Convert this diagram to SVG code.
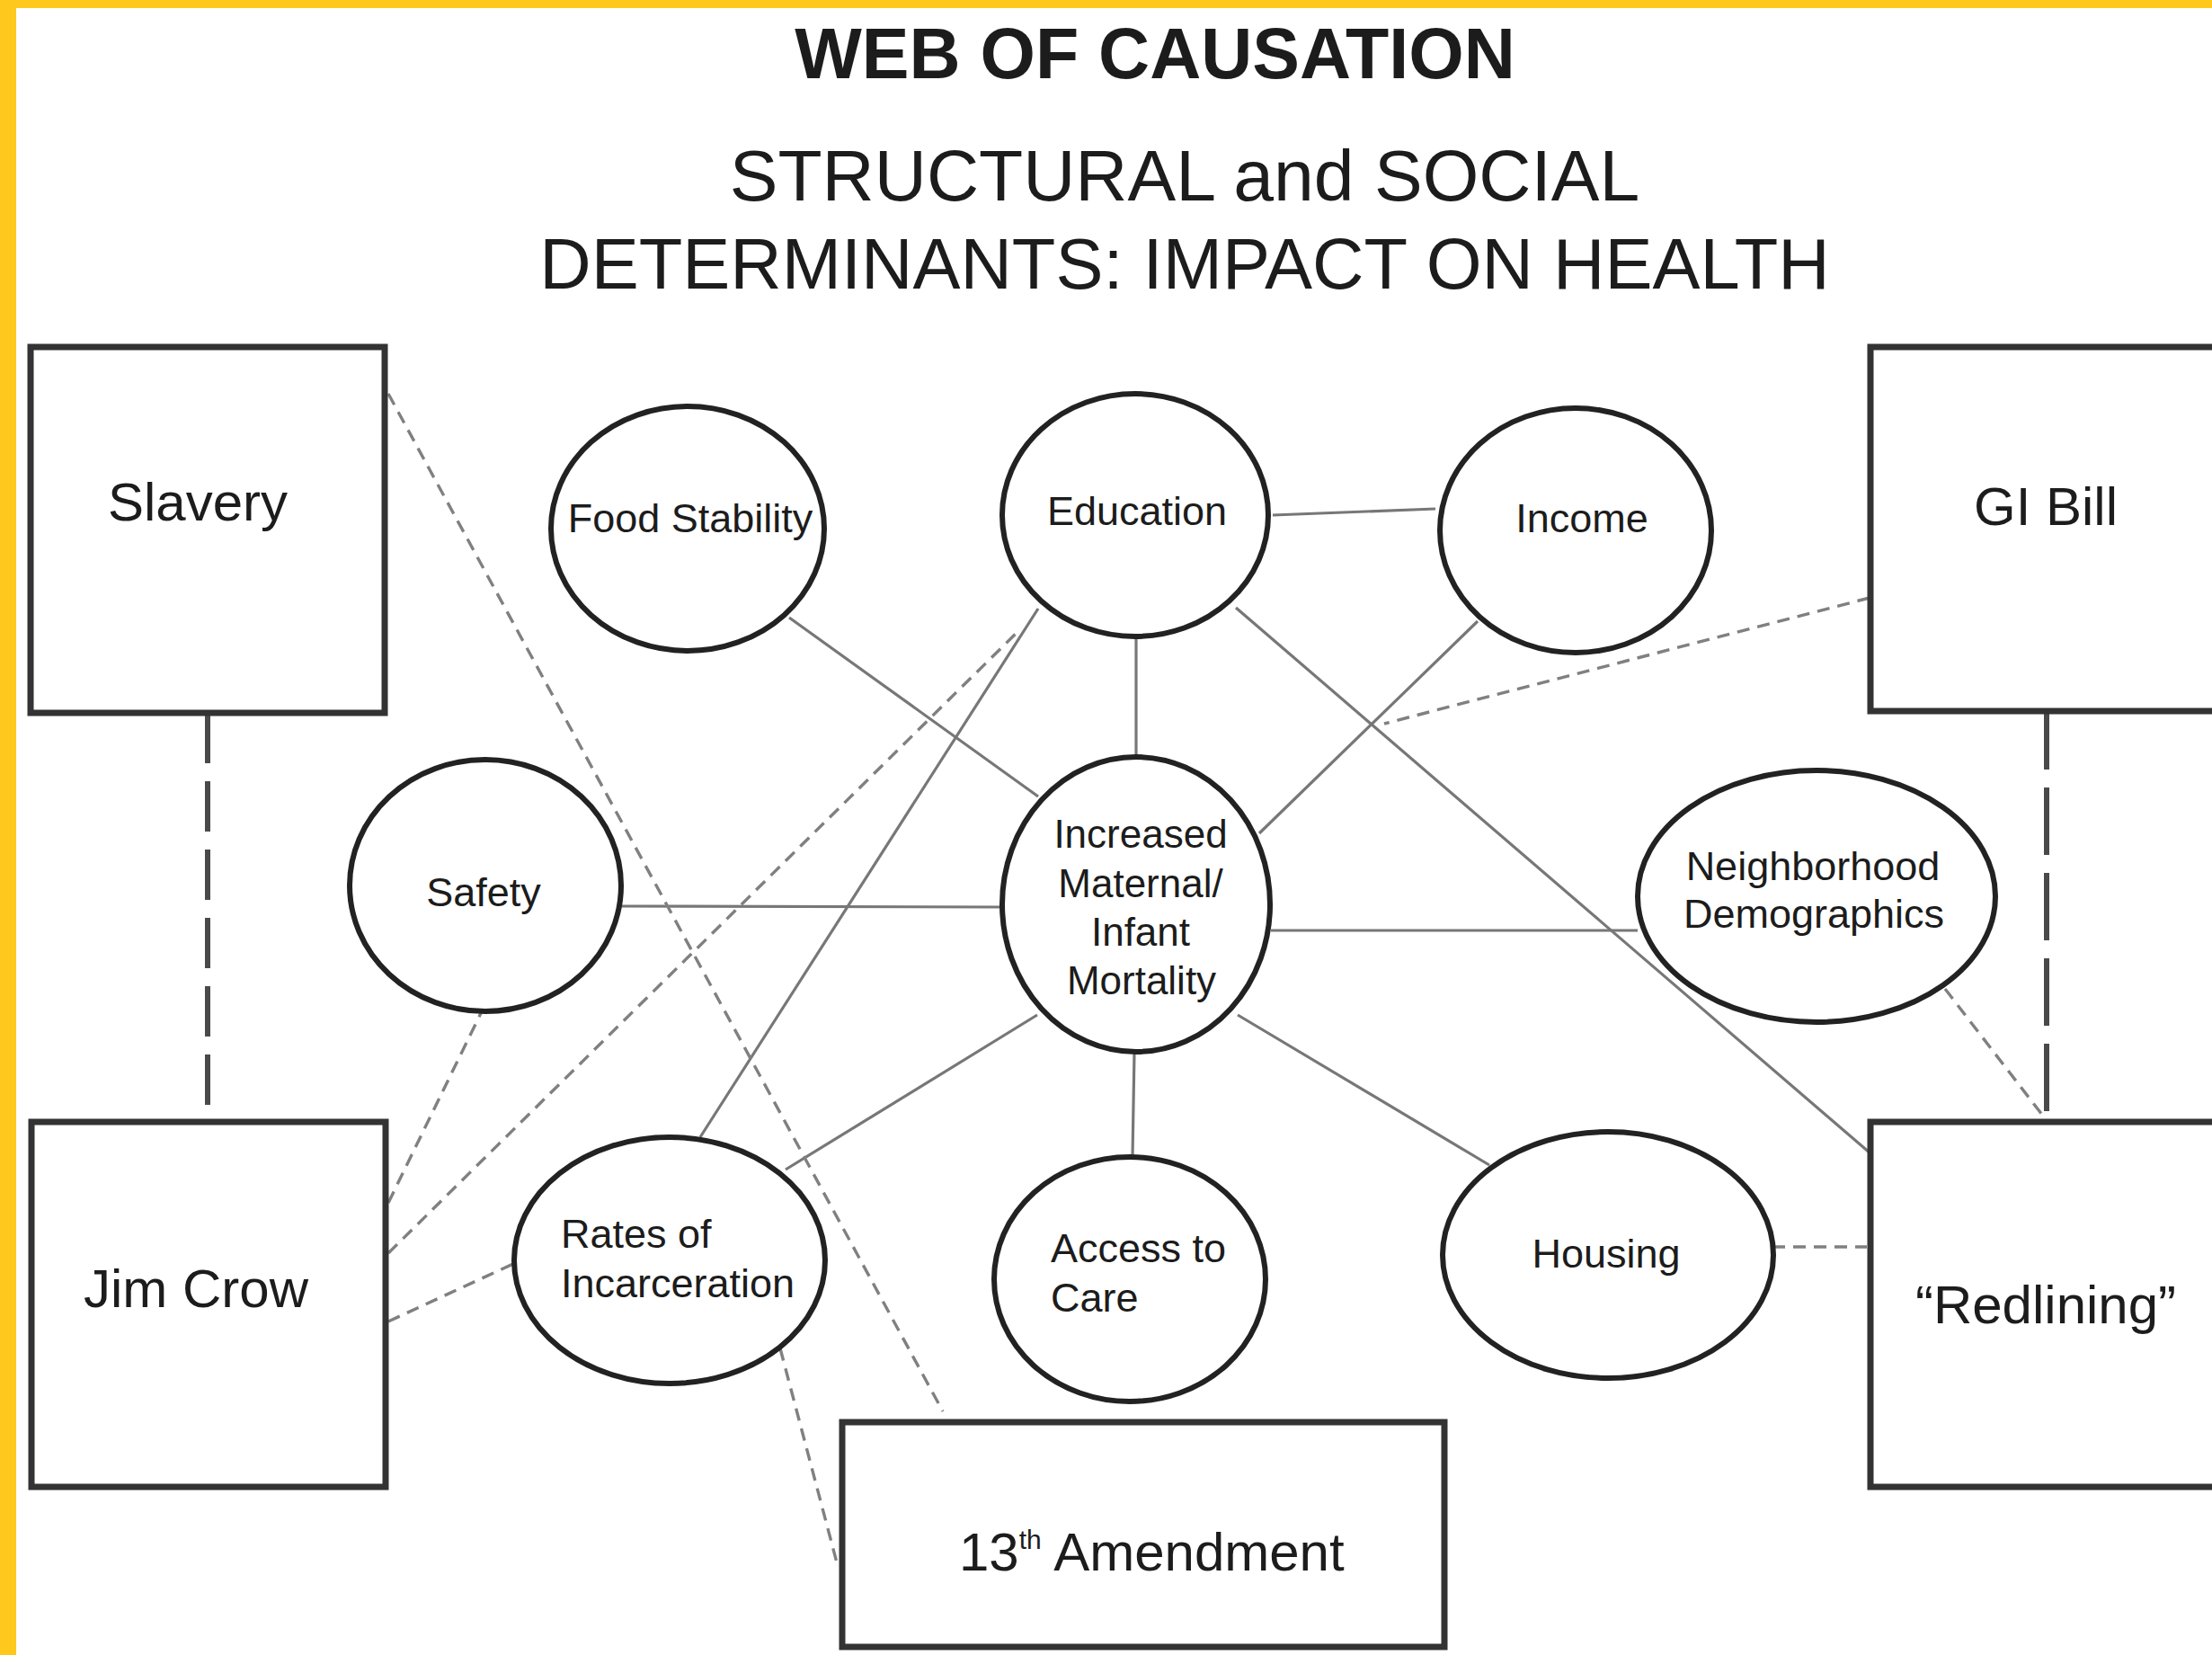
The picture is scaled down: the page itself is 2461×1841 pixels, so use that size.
<svg xmlns="http://www.w3.org/2000/svg" width="2461" height="1841" viewBox="0 0 2461 1841">
<style>
.box{fill:#fff;stroke:#333;stroke-width:7}
.ell{fill:#fff;stroke:#222;stroke-width:6}
.t{font-family:"Liberation Sans",Arial,sans-serif;fill:#1c1c1c}
.bt{font-size:60px;text-anchor:middle}
.et{font-size:45px}
.m{text-anchor:middle}
.sol{stroke:#777;stroke-width:3.2;fill:none}
.dsh{stroke:#808080;stroke-width:3.4;fill:none;stroke-dasharray:14 9}
.vd{stroke:#4a4a4a;stroke-width:6;fill:none}
</style>
<rect x="0" y="0" width="2461" height="1841" fill="#fff"/>
<rect x="0" y="0" width="2461" height="9" fill="#FEC81D"/>
<rect x="0" y="0" width="18" height="1841" fill="#FEC81D"/>

<g id="title">
<text class="t" x="1285" y="87" font-size="79" font-weight="bold" text-anchor="middle" fill="#111">WEB OF CAUSATION</text>
<text class="t" x="1318" y="223" font-size="80.5" text-anchor="middle" fill="#111">STRUCTURAL and SOCIAL</text>
<text class="t" x="1318" y="321" font-size="79.5" text-anchor="middle" fill="#111">DETERMINANTS: IMPACT ON HEALTH</text>
</g>

<g id="connectors">
<line class="vd" x1="231" y1="793" x2="231" y2="1230" stroke-dasharray="56 20"/>
<line class="vd" x1="2277" y1="793" x2="2277" y2="1248" stroke-dasharray="75 20" stroke-dashoffset="12"/>
<line class="sol" x1="1416" y1="573" x2="1597" y2="566"/>
<line class="sol" x1="1264" y1="706" x2="1264" y2="843"/>
<line class="sol" x1="878" y1="687" x2="1155" y2="886"/>
<line class="sol" x1="1375" y1="676" x2="2081" y2="1283"/>
<line class="sol" x1="1644" y1="691" x2="1401" y2="927"/>
<line class="sol" x1="692" y1="1008" x2="1115" y2="1009"/>
<line class="sol" x1="1414" y1="1035" x2="1822" y2="1035"/>
<line class="sol" x1="1154" y1="1129" x2="874" y2="1301"/>
<line class="sol" x1="1262" y1="1171" x2="1260" y2="1287"/>
<line class="sol" x1="1377" y1="1129" x2="1657" y2="1296"/>
<line class="sol" x1="779" y1="1265" x2="1155" y2="677"/>
<line class="dsh" x1="432" y1="438" x2="1049" y2="1570"/>
<line class="dsh" x1="432" y1="1338" x2="536" y2="1125"/>
<line class="dsh" x1="432" y1="1394" x2="1134" y2="701"/>
<line class="dsh" x1="432" y1="1470" x2="573" y2="1405"/>
<line class="dsh" x1="868" y1="1500" x2="932" y2="1742"/>
<line class="dsh" x1="2080" y1="665" x2="1540" y2="805" stroke-width="4"/>
<line class="dsh" x1="2164" y1="1100" x2="2272" y2="1240"/>
<line class="dsh" x1="1972" y1="1387" x2="2077" y2="1387" stroke-width="4"/>
</g>

<g id="slavery">
<rect class="box" x="34" y="386" width="394" height="407"/>
<text class="t bt" x="220" y="579">Slavery</text>
</g>
<g id="jim-crow">
<rect class="box" x="35" y="1248" width="394" height="406"/>
<text class="t bt" x="218" y="1454">Jim Crow</text>
</g>
<g id="gi-bill">
<rect class="box" x="2081" y="386" width="400" height="405"/>
<text class="t bt" x="2276" y="584">GI Bill</text>
</g>
<g id="redlining">
<rect class="box" x="2081" y="1248" width="400" height="406"/>
<text class="t bt" x="2276" y="1472" font-size="54">“Redlining”</text>
</g>
<g id="thirteenth-amendment">
<rect class="box" x="937" y="1582" width="670" height="250"/>
<text class="t" x="1067" y="1747" font-size="60">13<tspan font-size="30" dy="-24">th</tspan><tspan dy="24"> Amendment</tspan></text>
</g>

<g id="food-stability">
<ellipse class="ell" cx="765" cy="588" rx="152" ry="136"/>
<text class="t et m" x="768" y="592">Food Stability</text>
</g>
<g id="education">
<ellipse class="ell" cx="1263" cy="573" rx="148" ry="135"/>
<text class="t et m" x="1265" y="584">Education</text>
</g>
<g id="income">
<ellipse class="ell" cx="1753" cy="590" rx="151" ry="136"/>
<text class="t et m" x="1760" y="592">Income</text>
</g>
<g id="safety">
<ellipse class="ell" cx="540" cy="985" rx="151" ry="140"/>
<text class="t et m" x="538" y="1008">Safety</text>
</g>
<g id="mortality">
<ellipse class="ell" cx="1264" cy="1006" rx="149" ry="164"/>
<text class="t m" font-size="44" x="1269" y="943">Increased</text>
<text class="t m" font-size="44" x="1269" y="998">Maternal/</text>
<text class="t m" font-size="44" x="1269" y="1052">Infant</text>
<text class="t m" font-size="44" x="1270" y="1106">Mortality</text>
</g>
<g id="neighborhood">
<ellipse class="ell" cx="2021" cy="997" rx="199" ry="140"/>
<text class="t et m" x="2017" y="979">Neighborhood</text>
<text class="t et m" x="2018" y="1032">Demographics</text>
</g>
<g id="incarceration">
<ellipse class="ell" cx="745" cy="1402" rx="173" ry="137"/>
<text class="t et" x="624" y="1388">Rates of</text>
<text class="t et" x="624" y="1443">Incarceration</text>
</g>
<g id="access-to-care">
<ellipse class="ell" cx="1257" cy="1423" rx="151" ry="136"/>
<text class="t et" x="1169" y="1404">Access to</text>
<text class="t et" x="1169" y="1459">Care</text>
</g>
<g id="housing">
<ellipse class="ell" cx="1789" cy="1396" rx="184" ry="137"/>
<text class="t et m" x="1787" y="1410">Housing</text>
</g>
</svg>
